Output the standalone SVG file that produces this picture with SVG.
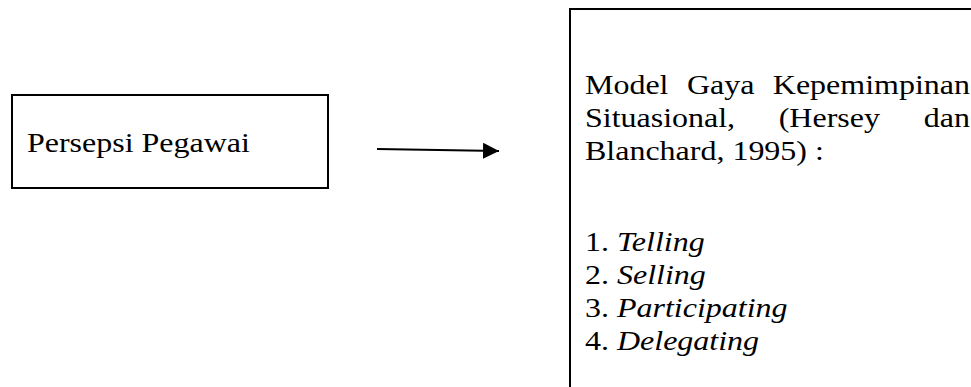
<svg xmlns="http://www.w3.org/2000/svg" width="971" height="387" viewBox="0 0 971 387">
<style>
.box{fill:#fff;stroke:#000;stroke-width:2}
.t{font-family:"Liberation Serif","Times New Roman",serif;font-size:28px;fill:#000}
.i{font-style:italic}
.conn{stroke:#000;stroke-width:2;fill:none}
</style>
<defs>
<marker id="ah" markerWidth="16" markerHeight="16" refX="16" refY="8" orient="auto" markerUnits="userSpaceOnUse">
<path d="M0,0 L16,8 L0,16 Z" fill="#000"/>
</marker>
</defs>
<rect width="971" height="387" fill="#fff"/>
<g id="node-persepsi">
<rect class="box" x="12" y="95" width="316" height="93"/>
<g transform="scale(1.142857,1)">
<text class="t" x="23.625" y="152">Persepsi Pegawai</text>
</g>
</g>
<g id="node-model">
<rect class="box" x="570" y="9" width="420" height="400"/>
<g transform="scale(1.142857,1)">
<text class="t" x="511.875" y="94">Model</text>
<text class="t" x="601.04" y="94">Gaya</text>
<text class="t" x="848.75" y="94" text-anchor="end">Kepemimpinan</text>
<text class="t" x="511.875" y="127">Situasional,</text>
<text class="t" x="681.36" y="127">(Hersey</text>
<text class="t" x="848.75" y="127" text-anchor="end">dan</text>
<text class="t" x="511.875" y="160">Blanchard, 1995) :</text>
<text class="t" x="511.875" y="251">1. <tspan class="i">Telling</tspan></text>
<text class="t" x="511.875" y="284">2. <tspan class="i">Selling</tspan></text>
<text class="t" x="511.875" y="317">3. <tspan class="i">Participating</tspan></text>
<text class="t" x="511.875" y="350">4. <tspan class="i">Delegating</tspan></text>
</g>
</g>
<g id="connectors">
<line class="conn" x1="377" y1="149" x2="499" y2="151" marker-end="url(#ah)"/>
</g>
</svg>
